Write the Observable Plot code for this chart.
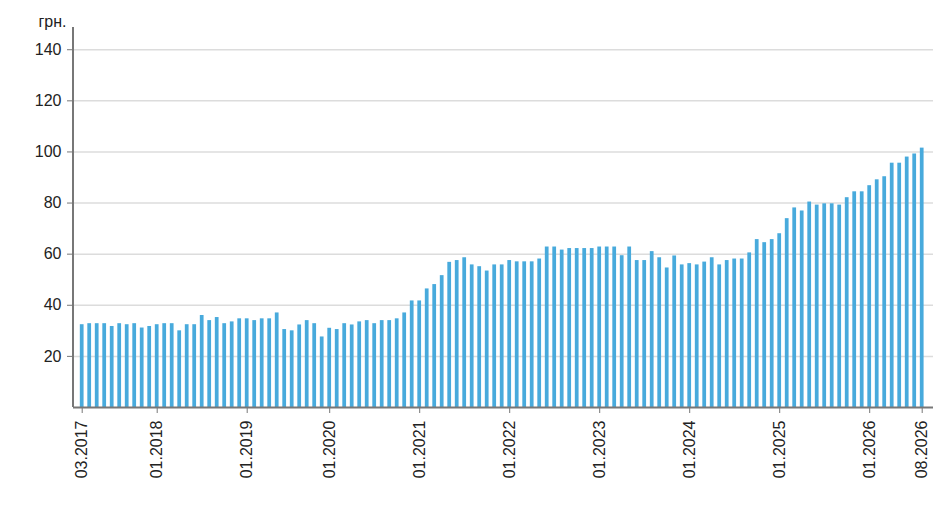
<!DOCTYPE html>
<html>
<head>
<meta charset="utf-8">
<script src="https://cdn.jsdelivr.net/npm/d3@7"></script>
<script src="https://cdn.jsdelivr.net/npm/@observablehq/plot@0.6"></script>
<style>
  html, body { margin: 0; padding: 0; background: #fff; }
</style>
</head>
<body>
<div id="chart"></div>
<script>
const months = [
  "03.2017","04.2017","05.2017","06.2017","07.2017","08.2017","09.2017","10.2017","11.2017","12.2017",
  "01.2018","02.2018","03.2018","04.2018","05.2018","06.2018","07.2018","08.2018","09.2018","10.2018","11.2018","12.2018",
  "01.2019","02.2019","03.2019","04.2019","05.2019","06.2019","07.2019","08.2019","09.2019","10.2019","11.2019",
  "01.2020","02.2020","03.2020","04.2020","05.2020","06.2020","07.2020","08.2020","09.2020","10.2020","11.2020","12.2020",
  "01.2021","02.2021","03.2021","04.2021","05.2021","06.2021","07.2021","08.2021","09.2021","10.2021","11.2021","12.2021",
  "01.2022","02.2022","03.2022","04.2022","05.2022","06.2022","07.2022","08.2022","09.2022","10.2022","11.2022","12.2022",
  "01.2023","02.2023","03.2023","04.2023","05.2023","06.2023","07.2023","08.2023","09.2023","10.2023","11.2023","12.2023",
  "01.2024","02.2024","03.2024","04.2024","05.2024","06.2024","07.2024","08.2024","09.2024","10.2024","11.2024","12.2024",
  "01.2025","02.2025","03.2025","04.2025","05.2025","06.2025","07.2025","08.2025","09.2025","10.2025","11.2025","12.2025",
  "01.2026","02.2026","03.2026","04.2026","05.2026","06.2026","07.2026","08.2026"
];
const values = [
  32.4, 32.8, 32.8, 32.8, 31.7, 32.8, 32.4, 32.8, 31.1, 31.7,
  32.4, 32.8, 32.8, 30.0, 32.4, 32.4, 36.0, 34.0, 35.2, 32.8,
  33.5, 34.7, 34.7, 34.0, 34.7, 34.7, 37.0, 30.5, 30.0, 32.3,
  34.0, 32.8, 27.6, 31.0, 30.5, 32.8, 32.3, 33.5, 34.0, 32.8,
  34.0, 34.0, 34.7, 37.0, 41.7, 41.7, 46.4, 48.1, 51.6, 56.8,
  57.5, 58.6, 55.8, 55.1, 53.4, 55.8, 55.8, 57.5, 57.0, 57.0,
  57.0, 58.1, 62.8, 62.8, 61.6, 62.2, 62.2, 62.2, 62.2, 62.8,
  62.8, 62.8, 59.4, 62.8, 57.5, 57.5, 61.0, 58.6, 54.6, 59.3,
  55.8, 56.3, 55.8, 56.9, 58.6, 55.8, 57.5, 58.1, 58.1, 60.5,
  65.7, 64.5, 65.7, 68.0, 73.9, 78.1, 76.9, 80.4, 79.2, 79.7,
  79.7, 79.2, 82.1, 84.4, 84.4, 86.8, 89.1, 90.3, 95.6, 95.6,
  98.0, 99.2, 101.5
];
const xTickLabels = ["03.2017","01.2018","01.2019","01.2020","01.2021","01.2022","01.2023","01.2024","01.2025","01.2026","08.2026"];
const yTicks = [20, 40, 60, 80, 100, 120, 140];
const unitLabel = "грн.";
const yMax = 148.7;

const data = months.map((m, i) => ({month: m, value: values[i]}));

const leftAxisLine = (index, scales, vals, dims) => {
  return d3.create("svg:line")
    .attr("x1", dims.marginLeft).attr("x2", dims.marginLeft)
    .attr("y1", scales.y(yMax)).attr("y2", scales.y(0))
    .attr("stroke", "#777").attr("stroke-width", 2)
    .node();
};

const chart = Plot.plot({
  width: 952,
  height: 507,
  marginLeft: 73,
  marginRight: 19,
  marginTop: 27,
  marginBottom: 100,
  style: {fontFamily: "'Liberation Sans', Arial, sans-serif", fontSize: "16px", color: "#222", background: "#fff"},
  x: {type: "band", domain: months, paddingInner: 0.5, paddingOuter: 1.083, align: 0.42},
  y: {domain: [0, yMax]},
  marks: [
    Plot.gridY(yTicks, {stroke: "#dcdcdc", strokeOpacity: 1, strokeWidth: 1.5}),
    Plot.barY(data, {x: "month", y: "value", fill: "#48aadc"}),
    Plot.ruleY([0], {stroke: "#777", strokeWidth: 2}),
    leftAxisLine,
    Plot.axisY(yTicks, {tickSize: 6, tickPadding: 6, fontSize: 16, stroke: "#777", fill: "#222", label: null}),
    Plot.axisX(xTickLabels, {tickSize: 6, tickPadding: 7, tickRotate: -90, fontSize: 16, stroke: "#777", fill: "#222", label: null}),
    Plot.text([unitLabel], {frameAnchor: "top-left", dx: -35, dy: -12, textAnchor: "start", fontSize: 16, fill: "#222"})
  ]
});
document.getElementById("chart").appendChild(chart);
</script>
</body>
</html>
